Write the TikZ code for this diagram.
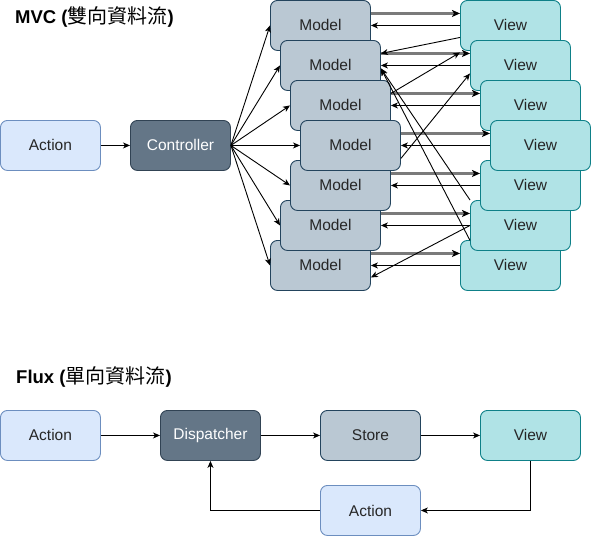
\documentclass[tikz,border=0pt]{standalone}
\usepackage{fontspec}
\setmainfont{Liberation Sans}
\newfontfamily\cjk{Noto Sans CJK TC}
\usetikzlibrary{arrows.meta,calc}
\definecolor{actfill}{HTML}{DAE8FC}
\definecolor{actline}{HTML}{6C8EBF}
\definecolor{ctlfill}{HTML}{647687}
\definecolor{ctlline}{HTML}{314354}
\definecolor{modfill}{HTML}{BAC8D3}
\definecolor{modline}{HTML}{23445D}
\definecolor{viewfill}{HTML}{B0E3E6}
\definecolor{viewline}{HTML}{0E8088}
\definecolor{grayarrow}{HTML}{7A7A7A}
\begin{document}
\begin{tikzpicture}[x=1pt,y=-1pt,
  box/.style={rounded corners=7pt, minimum width=100pt, minimum height=50pt,
    inner sep=0pt, line width=0.9pt, anchor=north west,
    font=\fontsize{15.5}{18}\selectfont, text=black!85},
  act/.style={box, fill=actfill, draw=actline},
  ctl/.style={box, fill=ctlfill, draw=ctlline, text=white},
  mod/.style={box, fill=modfill, draw=modline},
  vw/.style={box, fill=viewfill, draw=viewline},
  title/.style={anchor=west, inner sep=0pt, font=\bfseries\fontsize{18.5}{21}\selectfont},
  conn/.style={-{Stealth[length=7pt,width=6pt,inset=2pt]}, line width=0.9pt, draw=black},
  gconn/.style={-{Stealth[length=8pt,width=7pt,inset=2pt,color=black]}, line width=2.3pt, draw=grayarrow}
]
\useasboundingbox (0,0) rectangle (591,536);

% titles
\node[title] (t1) at (15,17) {MVC ({\cjk\mdseries\fontsize{20}{22}\selectfont 雙向資料流})};
\node[title] (t2) at (16,377) {Flux ({\cjk\mdseries\fontsize{20}{22}\selectfont 單向資料流})};

% MVC
\node[act] (A) at (0,120) {Action};
\node[ctl] (C) at (130,120) {Controller};

\node[mod] (M1) at (270,0) {Model};
\node[mod] (M2) at (280,40) {Model};
\node[mod] (M3) at (290,80) {Model};
\node[mod] (M7) at (270,240) {Model};
\node[mod] (M6) at (280,200) {Model};
\node[mod] (M5) at (290,160) {Model};
\node[mod] (M4) at (300,120) {Model};

\node[vw] (V1) at (460,0) {View};
\node[vw] (V2) at (470,40) {View};
\node[vw] (V3) at (480,80) {View};
\node[vw] (V7) at (460,240) {View};
\node[vw] (V6) at (470,200) {View};
\node[vw] (V5) at (480,160) {View};
\node[vw] (V4) at (490,120) {View};

\draw[conn] (A.east) -- (C.west);
\foreach \i in {1,...,7} {
  \draw[conn] (C.east) -- (M\i.west);
  \draw[gconn] ([yshift=12pt]M\i.east) -- ([yshift=12pt]V\i.west);
  \draw[conn] (V\i.west) -- (M\i.east);
}
% crossing connectors
\draw[conn] ([yshift=-12pt]V1.west) -- ([yshift=12pt]M2.east);
\draw[conn] ([yshift=12pt]M3.east) -- ([yshift=-27pt]V1.west);
\draw[conn] ([yshift=-13pt]M4.east) -- ([yshift=-8pt]V2.west);
\draw[conn] (V6.north west) -- ([yshift=-3pt]M2.east);
\draw[conn] ([yshift=-15pt]V6.west) -- ([yshift=-3pt]M2.east);
\draw[conn] (V6.west) -- ([yshift=-12pt]M7.east);

% Flux
\node[act] (FA) at (0,410) {Action};
\node[ctl] (D) at (160,410) {Dispatcher};
\node[mod] (S) at (320,410) {Store};
\node[vw] (FV) at (480,410) {View};
\node[act] (FA2) at (320,485) {Action};

\draw[conn] (FA.east) -- (D.west);
\draw[conn] (D.east) -- (S.west);
\draw[conn] (S.east) -- (FV.west);
\draw[conn] (FV.south) |- (FA2.east);
\draw[conn] (FA2.west) -| (D.south);
\end{tikzpicture}
\end{document}
